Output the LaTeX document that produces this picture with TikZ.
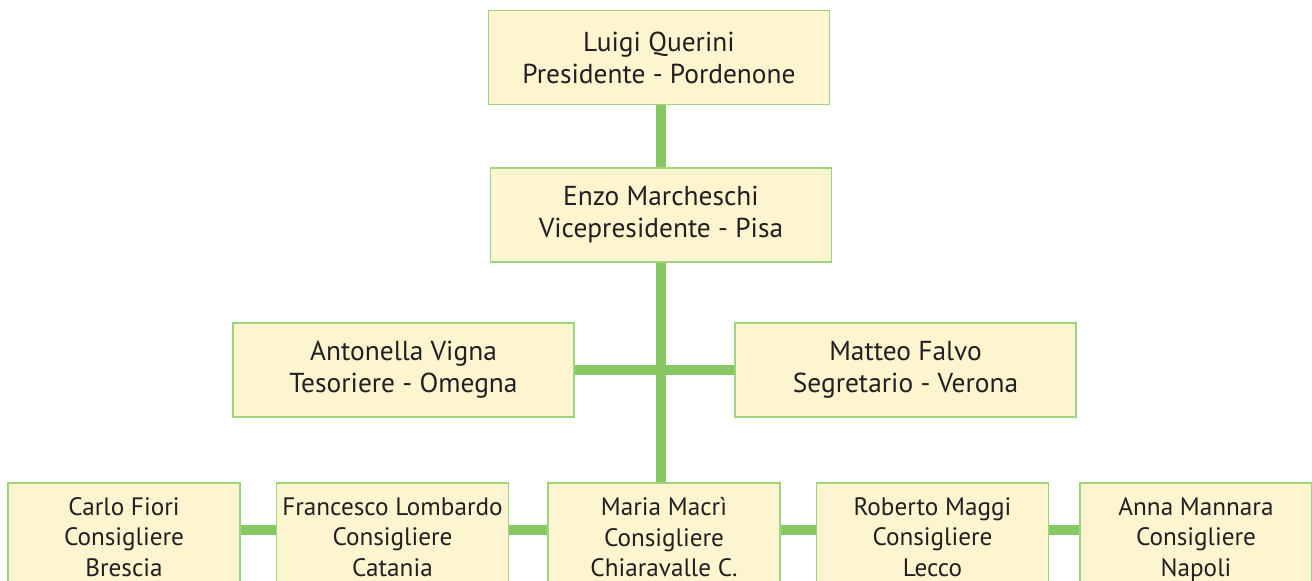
\documentclass[tikz,border=0pt]{standalone}
\usepackage{fontspec}
\setmainfont{PT Sans}
\definecolor{boxfill}{HTML}{FCF5CF}
\definecolor{boxline}{HTML}{9CD57C}
\definecolor{linkgreen}{HTML}{88C864}
\definecolor{inktext}{HTML}{231F20}
\tikzset{
  member/.style={draw=boxline, line width=0.6pt, fill=boxfill, text=inktext,
    align=center, inner sep=0pt},
  bigbox/.style={member, minimum width=170.5pt, minimum height=47pt,
    font=\fontsize{13.7}{16}\selectfont},
  smallbox/.style={member, minimum width=116pt, minimum height=54pt,
    text depth=0pt, font=\fontsize{12.6}{15.3}\selectfont},
  link/.style={draw=linkgreen, line width=5.2pt}
}
\begin{document}
\begin{tikzpicture}[x=0.5pt,y=-0.5pt]
  \useasboundingbox (0,0) rectangle (1312,581);
  \clip (0,0) rectangle (1312,581);
  % The board
  \node[bigbox] (pres) at (659,57.5) {Luigi Querini\\Presidente - Pordenone};
  \node[bigbox] (vice) at (661,215) {Enzo Marcheschi\\Vicepresidente - Pisa};
  \node[bigbox] (tes) at (403.5,370) {Antonella Vigna\\Tesoriere - Omegna};
  \node[bigbox] (seg) at (905.5,370) {Matteo Falvo\\Segretario - Verona};
  % The councillors
  \node[smallbox] (carlo) at (124,537) {Carlo Fiori\\Consigliere\\Brescia};
  \node[smallbox] (fran) at (392.5,537) {Francesco Lombardo\\Consigliere\\Catania};
  \node[smallbox] (maria) at (664,537) {Maria Macrì\\Consigliere\\Chiaravalle C.};
  \node[smallbox] (rob) at (932.5,537) {Roberto Maggi\\Consigliere\\Lecco};
  \node[smallbox] (anna) at (1196,537) {Anna Mannara\\Consigliere\\Napoli};
  % The links
  \draw[link] (pres.south -| vice) -- (vice.north);
  \draw[link] (vice.south) -- (vice.south |- maria.north);
  \draw[link] (tes.east) -- (seg.west);
  \draw[link] (carlo.east |- 0,530) -- (fran.west |- 0,530);
  \draw[link] (fran.east |- 0,530) -- (maria.west |- 0,530);
  \draw[link] (maria.east |- 0,530) -- (rob.west |- 0,530);
  \draw[link] (rob.east |- 0,530) -- (anna.west |- 0,530);
\end{tikzpicture}
\end{document}
